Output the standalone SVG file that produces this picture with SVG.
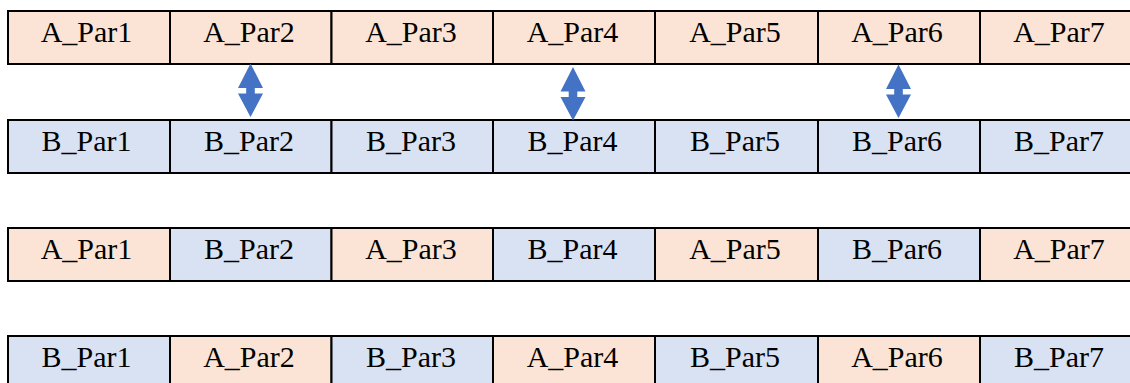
<svg xmlns="http://www.w3.org/2000/svg" width="1130" height="383" viewBox="0 0 1130 383">
  <style>
    .a { fill: #FBE4D5; }
    .b { fill: #D9E2F3; }
    .cell { stroke: #000; stroke-width: 2; }
    .lbl { font-family: "Liberation Serif", "Times New Roman", serif; font-size: 30px; fill: #000; text-anchor: middle; }
    .arrow { fill: #4472C4; }
  </style>
  <defs>
    <!-- up-down block arrow, centred on x=0 -->
    <path id="updown" d="M0,0 L12.5,24.5 L4.3,24.5 L4.3,30 L12.5,30 L0,53.5 L-12.5,30 L-4.3,30 L-4.3,24.5 L-12.5,24.5 Z"/>
  </defs>

  <rect width="1130" height="383" fill="#fff"/>

  <!-- row 1 -->
  <g id="r1c1"><rect class="cell a" x="8" y="11" width="162" height="53"/><text class="lbl" x="86.5" y="41.7">A_Par1</text></g>
  <g id="r1c2"><rect class="cell a" x="170" y="11" width="161.5" height="53"/><text class="lbl" x="249" y="41.7">A_Par2</text></g>
  <g id="r1c3"><rect class="cell a" x="331.5" y="11" width="161.5" height="53"/><text class="lbl" x="411" y="41.7">A_Par3</text></g>
  <g id="r1c4"><rect class="cell a" x="493" y="11" width="162" height="53"/><text class="lbl" x="572.5" y="41.7">A_Par4</text></g>
  <g id="r1c5"><rect class="cell a" x="655" y="11" width="163" height="53"/><text class="lbl" x="735" y="41.7">A_Par5</text></g>
  <g id="r1c6"><rect class="cell a" x="818" y="11" width="162" height="53"/><text class="lbl" x="897" y="41.7">A_Par6</text></g>
  <g id="r1c7"><rect class="cell a" x="980" y="11" width="162" height="53"/><text class="lbl" x="1059" y="41.7">A_Par7</text></g>

  <!-- row 2 -->
  <g id="r2c1"><rect class="cell b" x="8" y="120" width="162" height="53"/><text class="lbl" x="86.5" y="150.7">B_Par1</text></g>
  <g id="r2c2"><rect class="cell b" x="170" y="120" width="161.5" height="53"/><text class="lbl" x="249" y="150.7">B_Par2</text></g>
  <g id="r2c3"><rect class="cell b" x="331.5" y="120" width="161.5" height="53"/><text class="lbl" x="411" y="150.7">B_Par3</text></g>
  <g id="r2c4"><rect class="cell b" x="493" y="120" width="162" height="53"/><text class="lbl" x="572.5" y="150.7">B_Par4</text></g>
  <g id="r2c5"><rect class="cell b" x="655" y="120" width="163" height="53"/><text class="lbl" x="735" y="150.7">B_Par5</text></g>
  <g id="r2c6"><rect class="cell b" x="818" y="120" width="162" height="53"/><text class="lbl" x="897" y="150.7">B_Par6</text></g>
  <g id="r2c7"><rect class="cell b" x="980" y="120" width="162" height="53"/><text class="lbl" x="1059" y="150.7">B_Par7</text></g>

  <!-- row 3: alternating A / B -->
  <g id="r3c1"><rect class="cell a" x="8" y="228" width="162" height="53"/><text class="lbl" x="86.5" y="258.7">A_Par1</text></g>
  <g id="r3c2"><rect class="cell b" x="170" y="228" width="161.5" height="53"/><text class="lbl" x="249" y="258.7">B_Par2</text></g>
  <g id="r3c3"><rect class="cell a" x="331.5" y="228" width="161.5" height="53"/><text class="lbl" x="411" y="258.7">A_Par3</text></g>
  <g id="r3c4"><rect class="cell b" x="493" y="228" width="162" height="53"/><text class="lbl" x="572.5" y="258.7">B_Par4</text></g>
  <g id="r3c5"><rect class="cell a" x="655" y="228" width="163" height="53"/><text class="lbl" x="735" y="258.7">A_Par5</text></g>
  <g id="r3c6"><rect class="cell b" x="818" y="228" width="162" height="53"/><text class="lbl" x="897" y="258.7">B_Par6</text></g>
  <g id="r3c7"><rect class="cell a" x="980" y="228" width="162" height="53"/><text class="lbl" x="1059" y="258.7">A_Par7</text></g>

  <!-- row 4: alternating B / A -->
  <g id="r4c1"><rect class="cell b" x="8" y="336" width="162" height="53"/><text class="lbl" x="86.5" y="366.7">B_Par1</text></g>
  <g id="r4c2"><rect class="cell a" x="170" y="336" width="161.5" height="53"/><text class="lbl" x="249" y="366.7">A_Par2</text></g>
  <g id="r4c3"><rect class="cell b" x="331.5" y="336" width="161.5" height="53"/><text class="lbl" x="411" y="366.7">B_Par3</text></g>
  <g id="r4c4"><rect class="cell a" x="493" y="336" width="162" height="53"/><text class="lbl" x="572.5" y="366.7">A_Par4</text></g>
  <g id="r4c5"><rect class="cell b" x="655" y="336" width="163" height="53"/><text class="lbl" x="735" y="366.7">B_Par5</text></g>
  <g id="r4c6"><rect class="cell a" x="818" y="336" width="162" height="53"/><text class="lbl" x="897" y="366.7">A_Par6</text></g>
  <g id="r4c7"><rect class="cell b" x="980" y="336" width="162" height="53"/><text class="lbl" x="1059" y="366.7">B_Par7</text></g>

  <!-- swap arrows between row 1 and row 2 -->
  <g id="connectors">
    <use href="#updown" class="arrow" x="250.5" y="63.5"/>
    <use href="#updown" class="arrow" x="573" y="67"/>
    <use href="#updown" class="arrow" x="898.5" y="64.5"/>
  </g>
</svg>
